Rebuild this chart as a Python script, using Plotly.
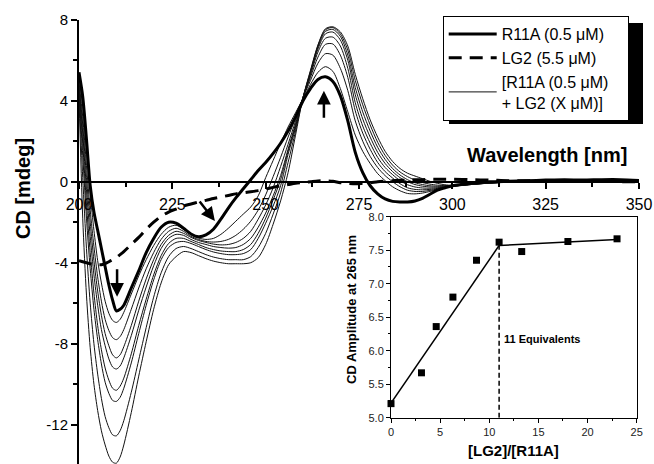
import plotly.graph_objects as go

# ---------------- data: main CD spectra ----------------
wavelength = [200, 201, 202, 203, 204, 205, 206, 207, 208, 209, 210, 211, 212,
              214, 216, 218, 220, 222, 224, 226, 228, 230, 232, 234, 236, 238, 240,
              242, 244, 246, 248, 250, 252, 254, 256, 258, 260, 262, 264, 266, 268,
              270, 272, 274, 276, 278, 280, 282, 284, 286, 288, 290, 292, 294, 296,
              298, 300, 305, 310, 315, 320, 325, 330, 335, 340, 345, 350]

r11a = [5.4, 4.2, 2.1, -0.2, -1.5, -2.4, -3.3, -4.2, -5.1, -5.85, -6.38, -6.3, -6.1,
        -5.25, -4.4, -3.5, -2.8, -2.25, -2.0, -2.05, -2.3, -2.58, -2.72, -2.63, -2.35, -1.85, -1.3,
        -0.8, -0.35, 0.1, 0.55, 0.95, 1.4, 1.9, 2.5, 3.2, 4.0, 4.6, 5.05, 5.18, 4.95,
        4.25, 3.0, 1.45, 0.45, -0.2, -0.6, -0.85, -0.97, -1.0, -1.0, -0.95, -0.82, -0.62, -0.42,
        -0.3, -0.2, -0.08, 0.0, 0.02, 0.05, 0.08, 0.1, 0.08, 0.1, 0.1, 0.06]

lg2 = [-3.9, -3.95, -4.0, -4.05, -4.1, -4.1, -4.1, -4.05, -3.95, -3.85, -3.75, -3.6, -3.45,
       -3.1, -2.75, -2.35, -2.0, -1.7, -1.5, -1.35, -1.2, -1.1, -1.0, -0.92, -0.83, -0.75, -0.68,
       -0.6, -0.55, -0.5, -0.44, -0.36, -0.28, -0.2, -0.14, -0.08, -0.04, 0.0, 0.04, 0.05, 0.02,
       -0.05, -0.08, -0.1, -0.08, -0.05, 0.0, 0.03, 0.05, 0.07, 0.08, 0.1, 0.1, 0.12, 0.12,
       0.12, 0.12, 0.1, 0.08, 0.05, 0.05, 0.03, 0.03, 0.02, 0.02, 0.0, 0.0]

t1 = [5.1, 3.7, 1.5, -0.6, -2.4, -3.9, -5.0, -5.9, -6.5, -6.85, -6.95, -6.8, -6.45,
      -5.55, -4.65, -3.85, -3.15, -2.6, -2.25, -2.15, -2.35, -2.6, -2.78, -2.85, -2.8, -2.6, -2.3,
      -1.95, -1.6, -1.25, -0.7, 0.2, 1.05, 1.9, 2.7, 3.4, 4.1, 4.8, 5.4, 5.68, 5.45,
      4.6, 3.45, 2.3, 1.5, 0.9, 0.4, 0.05, -0.25, -0.45, -0.58, -0.6, -0.56, -0.48, -0.38,
      -0.3, -0.2, -0.1, -0.04, 0.0, 0.02, 0.04, 0.05, 0.05, 0.06, 0.05, 0.04]

t2 = [4.9, 3.2, 0.8, -1.4, -3.2, -4.7, -5.9, -6.8, -7.35, -7.7, -7.8, -7.65, -7.3,
      -6.3, -5.25, -4.3, -3.5, -2.85, -2.45, -2.3, -2.45, -2.7, -2.85, -2.95, -2.98, -2.95, -2.85,
      -2.65, -2.35, -1.95, -1.4, -0.65, 0.25, 1.2, 2.2, 3.15, 4.15, 5.0, 5.85, 6.32, 6.25,
      5.6, 4.5, 3.0, 2.0, 1.25, 0.7, 0.3, 0.0, -0.25, -0.42, -0.48, -0.48, -0.43, -0.36,
      -0.29, -0.22, -0.12, -0.05, 0.0, 0.03, 0.05, 0.06, 0.06, 0.07, 0.06, 0.05]

t3 = [4.8, 2.8, 0.2, -2.0, -3.9, -5.4, -6.6, -7.5, -8.1, -8.55, -8.7, -8.55, -8.15,
      -7.1, -5.9, -4.8, -3.85, -3.1, -2.65, -2.45, -2.55, -2.75, -2.9, -3.0, -3.08, -3.12, -3.1,
      -3.0, -2.8, -2.45, -1.85, -1.15, -0.3, 0.75, 1.85, 3.0, 4.15, 5.15, 6.15, 6.78, 6.8,
      6.25, 5.15, 3.5, 2.4, 1.6, 0.95, 0.5, 0.18, -0.1, -0.3, -0.38, -0.4, -0.38, -0.33,
      -0.28, -0.24, -0.14, -0.06, -0.02, 0.02, 0.04, 0.05, 0.06, 0.06, 0.05, 0.04]

t4 = [4.7, 2.4, -0.4, -2.7, -4.6, -6.1, -7.3, -8.1, -8.75, -9.15, -9.25, -9.1, -8.7,
      -7.6, -6.35, -5.2, -4.15, -3.3, -2.8, -2.6, -2.65, -2.85, -3.0, -3.1, -3.2, -3.25, -3.28,
      -3.25, -3.1, -2.8, -2.25, -1.55, -0.7, 0.3, 1.6, 2.85, 4.15, 5.25, 6.4, 7.08, 7.14,
      6.7, 5.6, 3.9, 2.75, 1.9, 1.2, 0.7, 0.35, 0.05, -0.15, -0.26, -0.31, -0.32, -0.3,
      -0.26, -0.23, -0.14, -0.07, -0.02, 0.0, 0.03, 0.04, 0.05, 0.06, 0.05, 0.04]

t5 = [4.6, 1.9, -1.1, -3.5, -5.5, -7.1, -8.3, -9.2, -9.8, -10.2, -10.3, -10.1, -9.7,
      -8.5, -7.1, -5.8, -4.6, -3.65, -3.05, -2.8, -2.8, -2.95, -3.1, -3.25, -3.35, -3.42, -3.45,
      -3.45, -3.35, -3.1, -2.55, -1.8, -0.9, 0.1, 1.5, 2.75, 4.15, 5.35, 6.55, 7.3, 7.39,
      7.0, 6.0, 4.3, 3.1, 2.2, 1.45, 0.9, 0.5, 0.2, 0.0, -0.14, -0.22, -0.26, -0.26,
      -0.24, -0.22, -0.14, -0.07, -0.03, 0.01, 0.04, 0.05, 0.06, 0.07, 0.06, 0.05]

t6 = [4.5, 1.3, -1.8, -4.3, -6.3, -7.8, -9.0, -9.9, -10.45, -10.8, -10.85, -10.65, -10.2,
      -8.95, -7.5, -6.1, -4.85, -3.85, -3.25, -3.0, -2.95, -3.05, -3.2, -3.35, -3.47, -3.55, -3.6,
      -3.6, -3.55, -3.35, -2.8, -2.05, -1.2, -0.2, 1.35, 2.65, 4.15, 5.4, 6.65, 7.42, 7.52,
      7.18, 6.25, 4.65, 3.45, 2.5, 1.7, 1.1, 0.65, 0.33, 0.1, -0.05, -0.14, -0.2, -0.22,
      -0.22, -0.2, -0.13, -0.07, -0.02, 0.02, 0.05, 0.06, 0.07, 0.08, 0.07, 0.06]

t7 = [4.4, 0.2, -3.3, -6.0, -8.0, -9.5, -10.7, -11.6, -12.15, -12.5, -12.55, -12.3, -11.8,
      -10.4, -8.8, -7.2, -5.7, -4.5, -3.7, -3.3, -3.2, -3.3, -3.45, -3.6, -3.72, -3.8, -3.85,
      -3.85, -3.85, -3.7, -3.25, -2.55, -1.6, -0.55, 0.95, 2.5, 4.15, 5.45, 6.72, 7.5, 7.61,
      7.3, 6.5, 5.0, 3.8, 2.8, 1.95, 1.3, 0.82, 0.48, 0.25, 0.08, -0.04, -0.12, -0.17,
      -0.19, -0.19, -0.13, -0.06, -0.02, 0.03, 0.06, 0.07, 0.08, 0.09, 0.08, 0.06]

t8 = [4.2, -1.8, -5.6, -8.2, -10.0, -11.3, -12.3, -13.0, -13.55, -13.85, -13.9, -13.6, -13.0,
      -11.4, -9.6, -7.9, -6.3, -5.0, -4.1, -3.7, -3.45, -3.5, -3.65, -3.8, -3.92, -4.0, -4.05,
      -4.05, -4.05, -4.0, -3.75, -3.1, -2.1, -0.95, 0.45, 2.3, 4.15, 5.5, 6.75, 7.55, 7.65,
      7.4, 6.7, 5.3, 4.1, 3.05, 2.2, 1.5, 1.0, 0.65, 0.42, 0.28, 0.15, 0.02, -0.08,
      -0.15, -0.18, -0.12, -0.05, 0.0, 0.04, 0.06, 0.08, 0.08, 0.1, 0.09, 0.07]

titration = [t1, t2, t3, t4, t5, t6, t7, t8]
for s in [r11a, lg2] + titration:
    assert len(s) == len(wavelength), len(s)

# ---------------- data: inset titration ----------------
ratio = [0.0, 3.1, 4.6, 6.3, 8.7, 11.0, 13.3, 18.0, 23.0]
amp265 = [5.21, 5.67, 6.36, 6.80, 7.35, 7.62, 7.48, 7.63, 7.67]
fit1_x = [0.0, 11.0]
fit1_y = [5.22, 7.57]
fit2_x = [11.0, 23.0]
fit2_y = [7.57, 7.66]
equiv_x = [11.0, 11.0]
equiv_y = [5.0, 7.57]

FONT = "Liberation Sans, Arial, sans-serif"
W, H = 654, 464
NB = "\u00a0"


def px(x):
    return x / W


def py(y):
    return 1 - y / H


fig = go.Figure()

for i, t in enumerate(titration):
    fig.add_trace(go.Scatter(
        x=wavelength, y=t, mode="lines",
        line=dict(color="#111111", width=1, shape="spline", smoothing=0.8),
        name="[R11A (0.5 \u03bcM)" + NB * 3 + "<br>+ LG2 (X \u03bcM)]", legendgroup="mix",
        showlegend=(i == 0), legendrank=3, hoverinfo="skip"))

fig.add_trace(go.Scatter(
    x=wavelength, y=lg2, mode="lines",
    line=dict(color="black", width=3, dash="13px,8px", shape="spline", smoothing=0.8),
    name="LG2 (5.5 \u03bcM)", legendrank=2, hoverinfo="skip"))

fig.add_trace(go.Scatter(
    x=wavelength, y=r11a, mode="lines",
    line=dict(color="black", width=3, shape="spline", smoothing=0.8),
    name="R11A (0.5 \u03bcM)", legendrank=1, hoverinfo="skip"))

# inset
fig.add_trace(go.Scatter(x=fit1_x, y=fit1_y, mode="lines", xaxis="x2", yaxis="y2",
                         line=dict(color="black", width=1.5), showlegend=False))
fig.add_trace(go.Scatter(x=fit2_x, y=fit2_y, mode="lines", xaxis="x2", yaxis="y2",
                         line=dict(color="black", width=1.5), showlegend=False))
fig.add_trace(go.Scatter(x=equiv_x, y=equiv_y, mode="lines", xaxis="x2", yaxis="y2",
                         line=dict(color="black", width=1.5, dash="5px,3px"), showlegend=False))
fig.add_trace(go.Scatter(x=ratio, y=amp265, mode="markers", xaxis="x2", yaxis="y2",
                         marker=dict(symbol="square", size=7, color="black"),
                         cliponaxis=False, showlegend=False))

y_ticks = [-12, -8, -4, 0, 4, 8]

fig.update_layout(
    template="none",
    width=W, height=H,
    margin=dict(l=0, r=0, t=0, b=0),
    paper_bgcolor="white", plot_bgcolor="white",
    font=dict(family=FONT, color="black"),
    showlegend=True,
    legend=dict(x=px(442.7), y=py(16), xanchor="left", yanchor="top",
                bgcolor="white", bordercolor="black", borderwidth=1,
                font=dict(family=FONT, size=16, color="black"),
                itemwidth=48, tracegroupgap=0),
    xaxis=dict(domain=[px(79), px(639)], range=[200, 350], anchor="free",
               position=py(181.7), showline=True, linecolor="black", linewidth=2,
               ticks="outside", ticklen=6, tickwidth=1.5, tickcolor="black",
               tick0=200, dtick=25, tickfont=dict(size=16),
               ticklabelstandoff=2,
               minor=dict(dtick=12.5, tick0=200, ticks="outside", ticklen=4,
                          tickwidth=1.5, tickcolor="black", showgrid=False),
               showgrid=False, zeroline=False, automargin=False),
    yaxis=dict(domain=[0, py(19.7)], range=[-13.94, 8], anchor="x",
               showline=True, linecolor="black", linewidth=2,
               ticks="outside", ticklen=6, tickwidth=1.5, tickcolor="black",
               tickmode="array", tickvals=y_ticks, ticktext=[str(v) for v in y_ticks],
               tickfont=dict(size=15),
               minor=dict(tickmode="array", tickvals=[-10, -6, -2, 2, 6], ticks="outside",
                          ticklen=4, tickwidth=1.5, tickcolor="black", showgrid=False),
               showgrid=False, zeroline=False, automargin=False),
    xaxis2=dict(domain=[px(391), px(636.7)], range=[0, 25], anchor="y2",
                showline=True, mirror=True, linecolor="black", linewidth=1,
                ticks="outside", ticklen=4, tickcolor="black", tick0=0, dtick=5,
                tickfont=dict(size=11, color="#222222"),
                minor=dict(dtick=2.5, tick0=0, ticks="outside", ticklen=2, tickcolor="black"),
                showgrid=False, zeroline=False, automargin=False),
    yaxis2=dict(domain=[py(417.7), py(216.7)], range=[5.0, 8.0], anchor="x2",
                showline=True, mirror=True, linecolor="black", linewidth=1,
                ticks="outside", ticklen=4, tickcolor="black", tick0=5, dtick=0.5,
                tickformat=".1f", tickfont=dict(size=11, color="#222222"),
                minor=dict(dtick=0.25, tick0=5, ticks="outside", ticklen=2, tickcolor="black"),
                showgrid=False, zeroline=False, automargin=False),
)

# legend shadow
fig.add_shape(type="rect", xref="paper", yref="paper",
              x0=px(449), x1=px(643), y0=py(124), y1=py(23),
              fillcolor="black", line=dict(width=0), layer="above")

annotations = [
    dict(text="<b>Wavelength [nm]</b>", x=px(547), y=py(155), xref="paper", yref="paper",
         showarrow=False, font=dict(size=20), xanchor="center", yanchor="middle"),
    dict(text="<b>CD [mdeg]</b>", x=px(23), y=py(189), xref="paper", yref="paper",
         showarrow=False, font=dict(size=20), textangle=-90, xanchor="center", yanchor="middle"),
    dict(text="<b>CD Amplitude at 265 nm</b>", x=px(351), y=py(310), xref="paper", yref="paper",
         showarrow=False, font=dict(size=13), textangle=-90, xanchor="center", yanchor="middle"),
    dict(text="<b>[LG2]/[R11A]</b>", x=px(513), y=py(450), xref="paper", yref="paper",
         showarrow=False, font=dict(size=15), xanchor="center", yanchor="middle"),
    dict(text="<b>11 Equivalents</b>", x=11.3, y=6.17, xref="x2", yref="y2",
         showarrow=False, font=dict(size=11), xanchor="left", yanchor="middle"),
    # arrows
    dict(text="", x=210.2, y=-5.68, ax=210.2, ay=-4.25, xref="x", yref="y", axref="x", ayref="y",
         showarrow=True, arrowhead=2, arrowsize=1.1, arrowwidth=2.5, arrowcolor="black", standoff=0),
    dict(text="", x=265.6, y=4.49, ax=265.6, ay=3.08, xref="x", yref="y", axref="x", ayref="y",
         showarrow=True, arrowhead=2, arrowsize=1.1, arrowwidth=2.5, arrowcolor="black", standoff=0),
    dict(text="", x=236.4, y=-1.94, ax=232.0, ay=-0.9, xref="x", yref="y", axref="x", ayref="y",
         showarrow=True, arrowhead=2, arrowsize=1.1, arrowwidth=2.5, arrowcolor="black", standoff=0),
]
fig.update_layout(annotations=annotations)

fig.write_html("out.html", config={"displayModeBar": False},
               post_script="document.body.style.margin='0px';")
